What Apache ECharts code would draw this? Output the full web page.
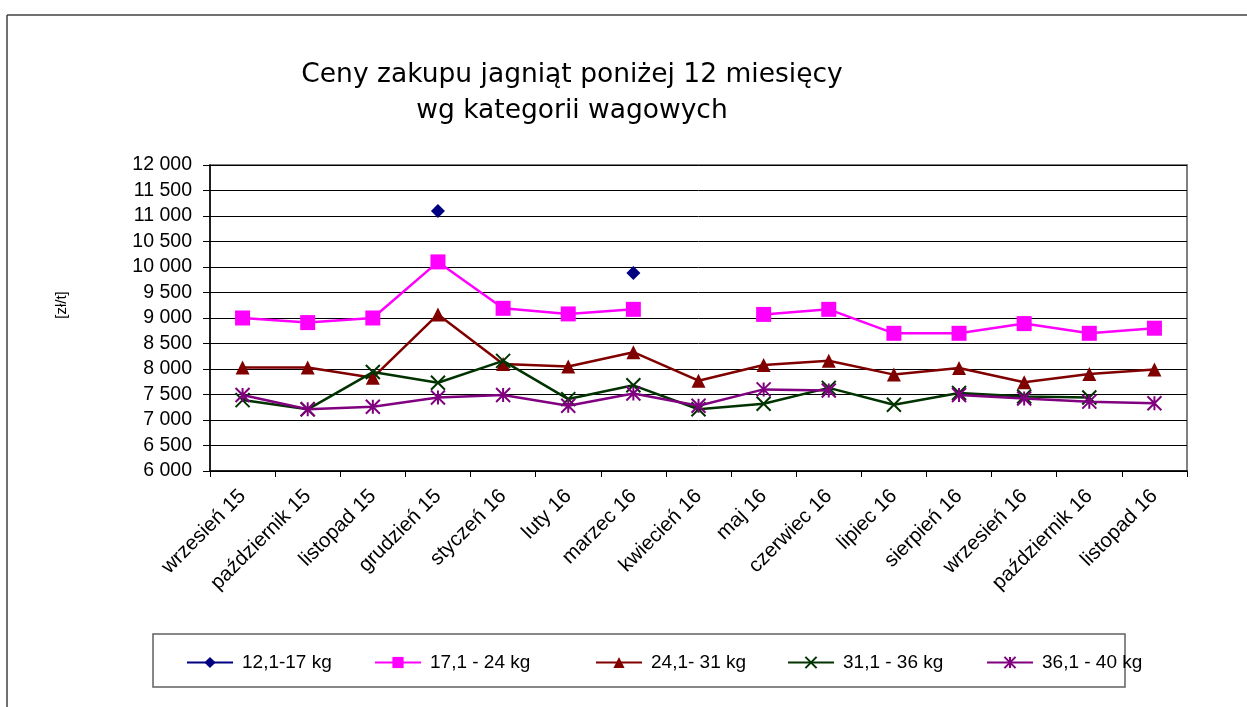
<!DOCTYPE html>
<html>
<head>
<meta charset="utf-8">
<script src="https://cdn.jsdelivr.net/npm/echarts@6/dist/echarts.min.js"></script>
<style>html,body{margin:0;padding:0;background:#fff}#c{width:1247px;height:707px}</style>
</head>
<body>
<div id="c"></div>
<script>
var categories = ['wrzesień 15','październik 15','listopad 15','grudzień 15','styczeń 16','luty 16','marzec 16','kwiecień 16','maj 16','czerwiec 16','lipiec 16','sierpień 16','wrzesień 16','październik 16','listopad 16'];
var seriesNames = ['12,1-17 kg','17,1 - 24 kg','24,1- 31 kg','31,1 - 36 kg','36,1 - 40 kg'];
var s1 = [null,null,null,11100,null,null,9880,null,null,null,null,null,null,null,null];
var s2 = [9000,8910,9000,10100,9190,9080,9170,null,9070,9170,8700,8700,8890,8700,8800];
var s3 = [8030,8030,7830,9070,8100,8050,8330,7770,8080,8160,7890,8020,7740,7900,7990];
var s4 = [7390,7210,7940,7730,8160,7410,7680,7210,7320,7630,7300,7530,7460,7440,null];
var s5 = [7490,7210,7260,7440,7490,7280,7520,7280,7600,7580,null,7490,7420,7360,7330];
var titleLines = ['Ceny zakupu jagniąt poniżej 12 miesięcy','wg kategorii wagowych'];
var yAxisName = '[zł/t]';

var FONT = '"Liberation Sans", Arial, sans-serif';
var colors = ['#000080','#FF00FF','#800000','#003300','#800080'];
var symbols = ['diamond','rect','triangle','path://M0,0L10,10M10,0L0,10','path://M0,0L10,10M10,0L0,10M5,0L5,10'];
var sizes = [14,15,14,14,14];
var datas = [s1,s2,s3,s4,s5];
var legendLeft = [186,374,595,787,986];

var series = datas.map(function(d,i){
  var strokeSym = i >= 3;
  return {
    name: seriesNames[i],
    type: 'line',
    data: d,
    symbol: symbols[i],
    symbolSize: sizes[i],
    showAllSymbol: true,
    connectNulls: false,
    lineStyle: {color: colors[i], width: 2.5},
    itemStyle: strokeSym ? {color: colors[i], borderColor: colors[i], borderWidth: 2} : {color: colors[i], borderWidth: 0},
    emphasis: {disabled: true},
    z: 3 + i
  };
});

var legends = seriesNames.map(function(n,i){
  return {
    data: [n],
    left: legendLeft[i],
    top: 653,
    itemWidth: 46,
    itemHeight: 14,
    padding: 0,
    selectedMode: false,
    textStyle: {fontFamily: FONT, fontSize: 19, color: '#000', padding: [0,0,0,4]}
  };
});

var chart = echarts.init(document.getElementById('c'), null, {renderer: 'canvas'});
chart.setOption({
  animation: false,
  backgroundColor: '#fff',
  title: {
    text: titleLines.join('\n'),
    left: 567,
    textAlign: 'center',
    top: 52,
    textStyle: {fontFamily: '"DejaVu Sans", sans-serif', fontSize: 26.5, fontWeight: 'normal', color: '#000', lineHeight: 36}
  },
  legend: legends,
  grid: {left: 210, top: 165, right: 60, bottom: 236, show: true, borderColor: '#808080', borderWidth: 2, backgroundColor: 'transparent'},
  xAxis: {
    type: 'category',
    data: categories,
    boundaryGap: true,
    axisLine: {lineStyle: {color: '#000', width: 1.5}},
    axisTick: {show: true, alignWithLabel: false, length: 6, inside: false, lineStyle: {color: '#000'}},
    axisLabel: {rotate: 45, interval: 0, fontFamily: FONT, fontSize: 20.5, color: '#000', margin: 22}
  },
  yAxis: {
    type: 'value',
    min: 6000, max: 12000, interval: 500,
    axisLine: {show: true, lineStyle: {color: '#000', width: 1.5}},
    axisTick: {show: true, length: 7, lineStyle: {color: '#000'}},
    splitLine: {show: true, lineStyle: {color: '#000', width: 1}},
    axisLabel: {
      fontFamily: FONT, fontSize: 19.5, color: '#000', margin: 18,
      formatter: function(v){ return String(v).replace(/\B(?=(\d{3})+(?!\d))/g, ' '); }
    }
  },
  graphic: [
    {type: 'line', shape: {x1: 7, y1: 15, x2: 1247, y2: 15}, style: {stroke: '#404040', lineWidth: 1.5}, silent: true},
    {type: 'line', shape: {x1: 7, y1: 15, x2: 7, y2: 707}, style: {stroke: '#404040', lineWidth: 1.5}, silent: true},
    {type: 'rect', shape: {x: 153, y: 634, width: 972, height: 53}, style: {fill: 'none', stroke: '#606060', lineWidth: 1.5}, silent: true},
    {type: 'text', x: 62, y: 305, rotation: Math.PI / 2, style: {text: yAxisName, font: '15px "Liberation Sans", Arial, sans-serif', fill: '#000', align: 'center', verticalAlign: 'middle'}, silent: true}
  ],
  series: series
});
</script>
</body>
</html>
